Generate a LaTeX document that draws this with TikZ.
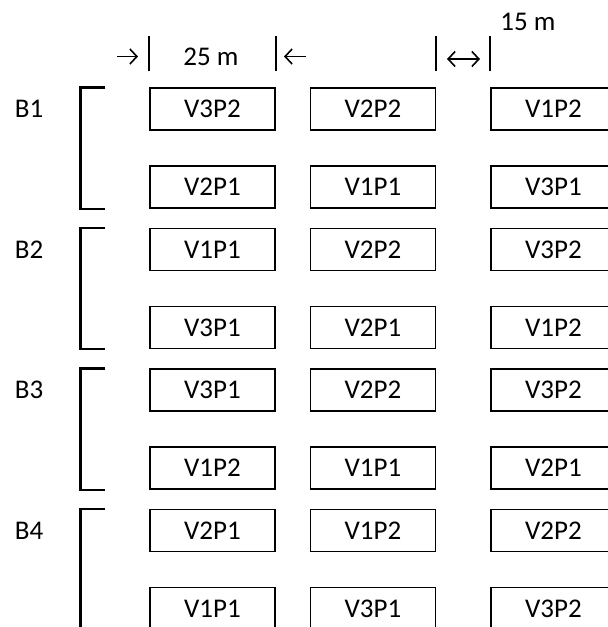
\documentclass[tikz,border=0pt]{standalone}
\usepackage{fontspec}
\setmainfont{Carlito}
\usetikzlibrary{arrows.meta}

\tikzset{
  plotbox/.style={draw, line width=1.4pt, minimum width=125pt, minimum height=42pt,
    inner sep=0pt, font=\fontsize{27}{32}\selectfont},
  blocklabel/.style={font=\fontsize{27}{32}\selectfont},
  bracket/.style={line width=2.4pt},
  sizebar/.style={line width=2pt},
  sizetext/.style={font=\fontsize{27}{32}\selectfont},
  sizearrow/.style={line width=1.6pt, arrows={-Straight Barb[length=7pt, width=15pt]}}
}

\begin{document}
\begin{tikzpicture}[x=1pt,y=-1pt]
\useasboundingbox (0,0) rectangle (608,627);
\clip (0,0) rectangle (608,627);

% four blocks, two rows of three plots each
\foreach \blk/\pa/\pb/\pc/\pd/\pe/\pf [count=\k from 0] in {
    1/V3P2/V2P2/V1P2/V2P1/V1P1/V3P1,
    2/V1P1/V2P2/V3P2/V3P1/V2P1/V1P2,
    3/V3P1/V2P2/V3P2/V1P2/V1P1/V2P1,
    4/V2P1/V1P2/V2P2/V1P1/V3P1/V3P2}
{
  \pgfmathsetmacro{\ytop}{109+140.5*\k}
  \pgfmathsetmacro{\ybot}{\ytop+78}
  \node[blocklabel] (B\blk) at (29,\ytop) {B\blk};
  \node[plotbox] (B\blk-1-1) at (212.5,\ytop) {\pa};
  \node[plotbox] (B\blk-1-2) at (373,\ytop) {\pb};
  \node[plotbox] (B\blk-1-3) at (553.5,\ytop) {\pc};
  \node[plotbox] (B\blk-2-1) at (212.5,\ybot) {\pd};
  \node[plotbox] (B\blk-2-2) at (373,\ybot) {\pe};
  \node[plotbox] (B\blk-2-3) at (553.5,\ybot) {\pf};
  \draw[bracket] ([xshift=-44pt]B\blk-1-1.north west) -- ([xshift=-69pt]B\blk-1-1.north west)
    -- ([xshift=-69pt]B\blk-2-1.south west) -- ([xshift=-44pt]B\blk-2-1.south west);
}

% plot width and alley width
\foreach \c/\a in {pl/B1-1-1.north west, pr/B1-1-1.north east, ar/B1-1-2.north east, al/B1-1-3.north west}
  \draw[sizebar] ([yshift=16pt]\a) coordinate (\c-lo) -- ([yshift=51pt]\a) coordinate (\c-hi);

\coordinate (toright-a) at (117,56.5);
\coordinate (toright-b) at (138,56.5);
\coordinate (toleft-a) at (306,56.5);
\coordinate (toleft-b) at (284,56.5);
\coordinate (both-a) at (447,59);
\coordinate (both-b) at (480,59);
\draw[sizearrow] (toright-a) -- (toright-b);
\draw[sizearrow] (toleft-a) -- (toleft-b);
\draw[sizearrow, arrows={Straight Barb[length=7pt, width=15pt]-Straight Barb[length=7pt, width=15pt]}] (both-a) -- (both-b);

\node[sizetext] (plotw) at (211,57) {25 m};
\node[sizetext] (alleyw) at (528,22) {15 m};
\end{tikzpicture}
\end{document}
